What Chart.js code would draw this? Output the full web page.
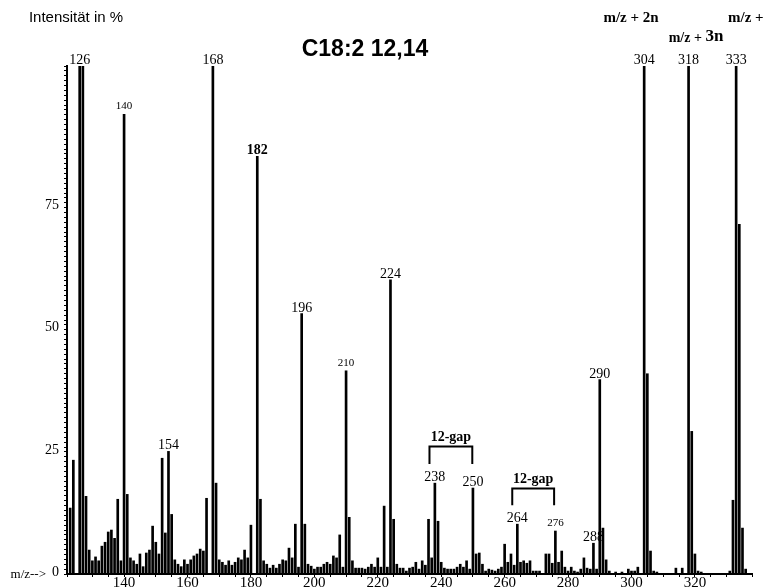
<!DOCTYPE html>
<html>
<head>
<meta charset="utf-8">
<script src="https://cdn.jsdelivr.net/npm/chart.js@4.4.1/dist/chart.umd.min.js"></script>
<style>
  html, body { margin: 0; padding: 0; background: #fff; }
  #wrap { width: 764px; height: 588px; }
</style>
</head>
<body>
<div id="wrap"><canvas id="chart" width="764" height="588"></canvas></div>
<script>
// --- DADOS DO ESPECTRO ---
// m/z e intensidade (%); picos que saem do topo ficam em 104
const mz = [
  123, 124, 126, 127, 128, 129, 130, 131, 132, 133, 134, 135, 136, 137, 138, 139,
  140, 141, 142, 143, 144, 145, 146, 147, 148, 149, 150, 151, 152, 153, 154, 155, 156, 157, 158, 159,
  160, 161, 162, 163, 164, 165, 166, 168, 169, 170, 171, 172, 173, 174, 175, 176, 177, 178, 179, 180,
  182, 183, 184, 185, 186, 187, 188, 189, 190, 191, 192, 193, 194, 195, 196, 197, 198, 199,
  200, 201, 202, 203, 204, 205, 206, 207, 208, 209, 210, 211, 212, 213, 214, 215, 216, 217, 218, 219,
  220, 221, 222, 223, 224, 225, 226, 227, 228, 229, 230, 231, 232, 233, 234, 235, 236, 237, 238, 239,
  240, 241, 242, 243, 244, 245, 246, 247, 248, 249, 250, 251, 252, 253, 254, 255, 256, 257, 258, 259,
  260, 261, 262, 263, 264, 265, 266, 267, 268, 269, 270, 271, 273, 274, 275, 276, 277, 278, 279,
  280, 281, 282, 283, 284, 285, 286, 287, 288, 289, 290, 291, 292, 293, 295, 297, 299, 300, 301, 302,
  304, 305, 306, 307, 308, 314, 316, 318, 319, 320, 321, 322, 331, 332, 333, 334, 335, 336
];
const intensidade = [
  13.5, 23.3, 104, 104, 15.9, 4.9, 2.7, 3.5, 2.7, 5.7, 6.5, 8.6, 9.0, 7.3, 15.3, 2.7,
  94.1, 16.3, 3.3, 2.7, 2.0, 4.1, 1.5, 4.3, 4.9, 9.8, 6.5, 4.1, 23.7, 8.4, 25.1, 12.2, 2.9, 2.0, 1.5, 2.9,
  2.0, 2.9, 3.7, 4.1, 5.1, 4.7, 15.5, 104, 18.6, 2.9, 2.4, 1.8, 2.7, 1.8, 2.4, 3.3, 2.9, 4.9, 3.3, 10.0,
  85.5, 15.3, 2.7, 2.0, 1.2, 1.8, 1.2, 2.0, 2.9, 2.7, 5.3, 3.3, 10.2, 1.4, 53.3, 10.2, 2.0, 1.6,
  1.0, 1.4, 1.4, 2.0, 2.4, 2.0, 3.7, 3.3, 8.0, 1.4, 41.6, 11.6, 2.7, 1.2, 1.2, 1.2, 1.0, 1.4, 2.0, 1.4,
  3.3, 1.4, 13.9, 1.4, 60.2, 11.2, 2.0, 1.2, 1.2, 0.6, 1.2, 1.4, 2.4, 1.0, 2.7, 1.8, 11.2, 3.3, 18.6, 10.8,
  2.4, 1.2, 1.0, 1.0, 1.0, 1.4, 2.0, 1.4, 2.7, 1.0, 17.6, 4.1, 4.3, 2.0, 0.6, 1.0, 0.8, 0.6, 1.0, 1.4,
  6.1, 2.4, 4.1, 1.8, 10.2, 2.4, 2.7, 2.2, 2.7, 0.6, 0.6, 0.6, 4.1, 4.1, 2.2, 8.8, 2.4, 4.7, 1.4,
  0.6, 1.4, 0.6, 0.4, 1.0, 3.3, 1.2, 1.0, 6.3, 1.0, 39.8, 9.4, 2.9, 0.6, 0.4, 0.4, 1.0, 0.6, 0.6, 1.4,
  104, 41.0, 4.7, 0.6, 0.4, 1.2, 1.2, 104, 29.2, 4.1, 0.6, 0.4, 0.6, 15.1, 104, 71.6, 9.4, 1.0
];

// marcas dos eixos
const xRotulos = [140, 160, 180, 200, 220, 240, 260, 280, 300, 320];
const yRotulos = [0, 25, 50, 75];

// picos anotados (os pequenos usam fonte menor)
const picos = [126, 140, 154, 168, 182, 196, 210, 224, 238, 250, 264, 276, 288, 290, 304, 318, 333];
const picosPequenos = [140, 210, 276];

// colchetes "12-gap" (em unidades do grafico)
const gaps = [
  { de: 236.3, ate: 249.8, topo: 26.1, base: 22.5 },
  { de: 262.4, ate: 275.6, topo: 17.5, base: 14.1 }
];

const SERIF = '"Liberation Serif", "Times New Roman", serif';
const SANS = '"Liberation Sans", Arial, sans-serif';

// Plugin simples para os textos e colchetes
const anotacoes = {
  id: 'anotacoes',
  afterDraw(chart) {
    const { ctx, chartArea, scales: { x, y } } = chart;
    ctx.save();
    ctx.fillStyle = '#000';
    ctx.strokeStyle = '#000';
    ctx.textAlign = 'center';
    ctx.textBaseline = 'alphabetic';

    // rotulos dos picos
    picos.forEach(m => {
      const v = intensidade[mz.indexOf(m)];
      const topo = Math.max(y.getPixelForValue(v), chartArea.top);
      const pequeno = picosPequenos.includes(m);
      ctx.font = (m === 182 ? 'bold ' : '') + (pequeno ? '11px ' : '14px ') + SERIF;
      ctx.fillText(String(m), x.getPixelForValue(m), topo - (pequeno ? 5 : 2));
    });

    // colchetes 12-gap
    ctx.lineWidth = 2;
    gaps.forEach(g => {
      const x1 = x.getPixelForValue(g.de), x2 = x.getPixelForValue(g.ate);
      const yt = y.getPixelForValue(g.topo), yb = y.getPixelForValue(g.base);
      ctx.beginPath();
      ctx.moveTo(x1, yb); ctx.lineTo(x1, yt); ctx.lineTo(x2, yt); ctx.lineTo(x2, yb);
      ctx.stroke();
      ctx.font = 'bold 14px ' + SERIF;
      ctx.fillText('12-gap', (x1 + x2) / 2, yt - 5.5);
    });

    // titulo e legenda do eixo
    ctx.textBaseline = 'middle';
    ctx.font = 'bold 23px ' + SANS;
    ctx.fillText('C18:2 12,14', 365, 50);
    ctx.font = '15px ' + SANS;
    ctx.fillText('Intensität in %', 76, 18);

    // m/z + n (serie homologa)
    ctx.font = 'bold 15px ' + SERIF;
    ctx.fillText('m/z + 2n', 631, 18);
    ctx.textAlign = 'left';
    ctx.fillText('m/z + n', 728, 18);
    const base = 'm/z + ';
    ctx.font = 'bold 14px ' + SERIF;
    const w1 = ctx.measureText(base).width;
    ctx.font = 'bold 17px ' + SERIF;
    const w2 = ctx.measureText('3n').width;
    const x0 = 696 - (w1 + w2) / 2;
    ctx.font = 'bold 14px ' + SERIF;
    ctx.fillText(base, x0, 38);
    ctx.font = 'bold 17px ' + SERIF;
    ctx.fillText('3n', x0 + w1, 37);

    // m/z--> ao lado do zero
    ctx.textAlign = 'right';
    ctx.font = '13px ' + SERIF;
    ctx.fillText('m/z-->', 46, y.getPixelForValue(0) + 1);
    ctx.restore();
  }
};

const ctx = document.getElementById('chart').getContext('2d');
window.myChart = new Chart(ctx, {
  type: 'bar',
  data: {
    datasets: [{
      label: 'Intensität',
      data: mz.map((m, i) => ({ x: m, y: intensidade[i] })),
      backgroundColor: '#000',
      borderWidth: 0,
      barThickness: 2
    }]
  },
  options: {
    responsive: false,
    animation: false,
    events: [],
    layout: { padding: { top: 66, right: 12, left: 0, bottom: 0 } },
    plugins: { legend: { display: false }, tooltip: { enabled: false }, title: { display: false } },
    scales: {
      x: {
        type: 'linear',
        min: 122,
        max: 338,
        offset: false,
        afterFit: s => { s.height = 14; },
        border: { display: true, color: '#000', width: 2 },
        grid: { offset: false, drawOnChartArea: false, drawTicks: true, tickLength: 3, color: '#000', lineWidth: 1 },
        ticks: {
          stepSize: 5,
          autoSkip: false,
          maxRotation: 0,
          padding: -3,
          color: '#000',
          font: { family: SERIF, size: 15 },
          callback: v => xRotulos.includes(v) ? String(v) : ''
        }
      },
      y: {
        min: 0,
        max: 104,
        afterFit: s => { s.width = 67; },
        border: { display: true, color: '#000', width: 2 },
        grid: { drawOnChartArea: false, drawTicks: true, tickLength: 3, color: '#000', lineWidth: 1 },
        ticks: {
          stepSize: 1,
          autoSkip: false,
          padding: 5,
          labelOffset: -2,
          color: '#000',
          font: { family: SERIF, size: 14 },
          callback: v => yRotulos.includes(v) ? String(v) : ''
        }
      }
    }
  },
  plugins: [anotacoes]
});
</script>
</body>
</html>
